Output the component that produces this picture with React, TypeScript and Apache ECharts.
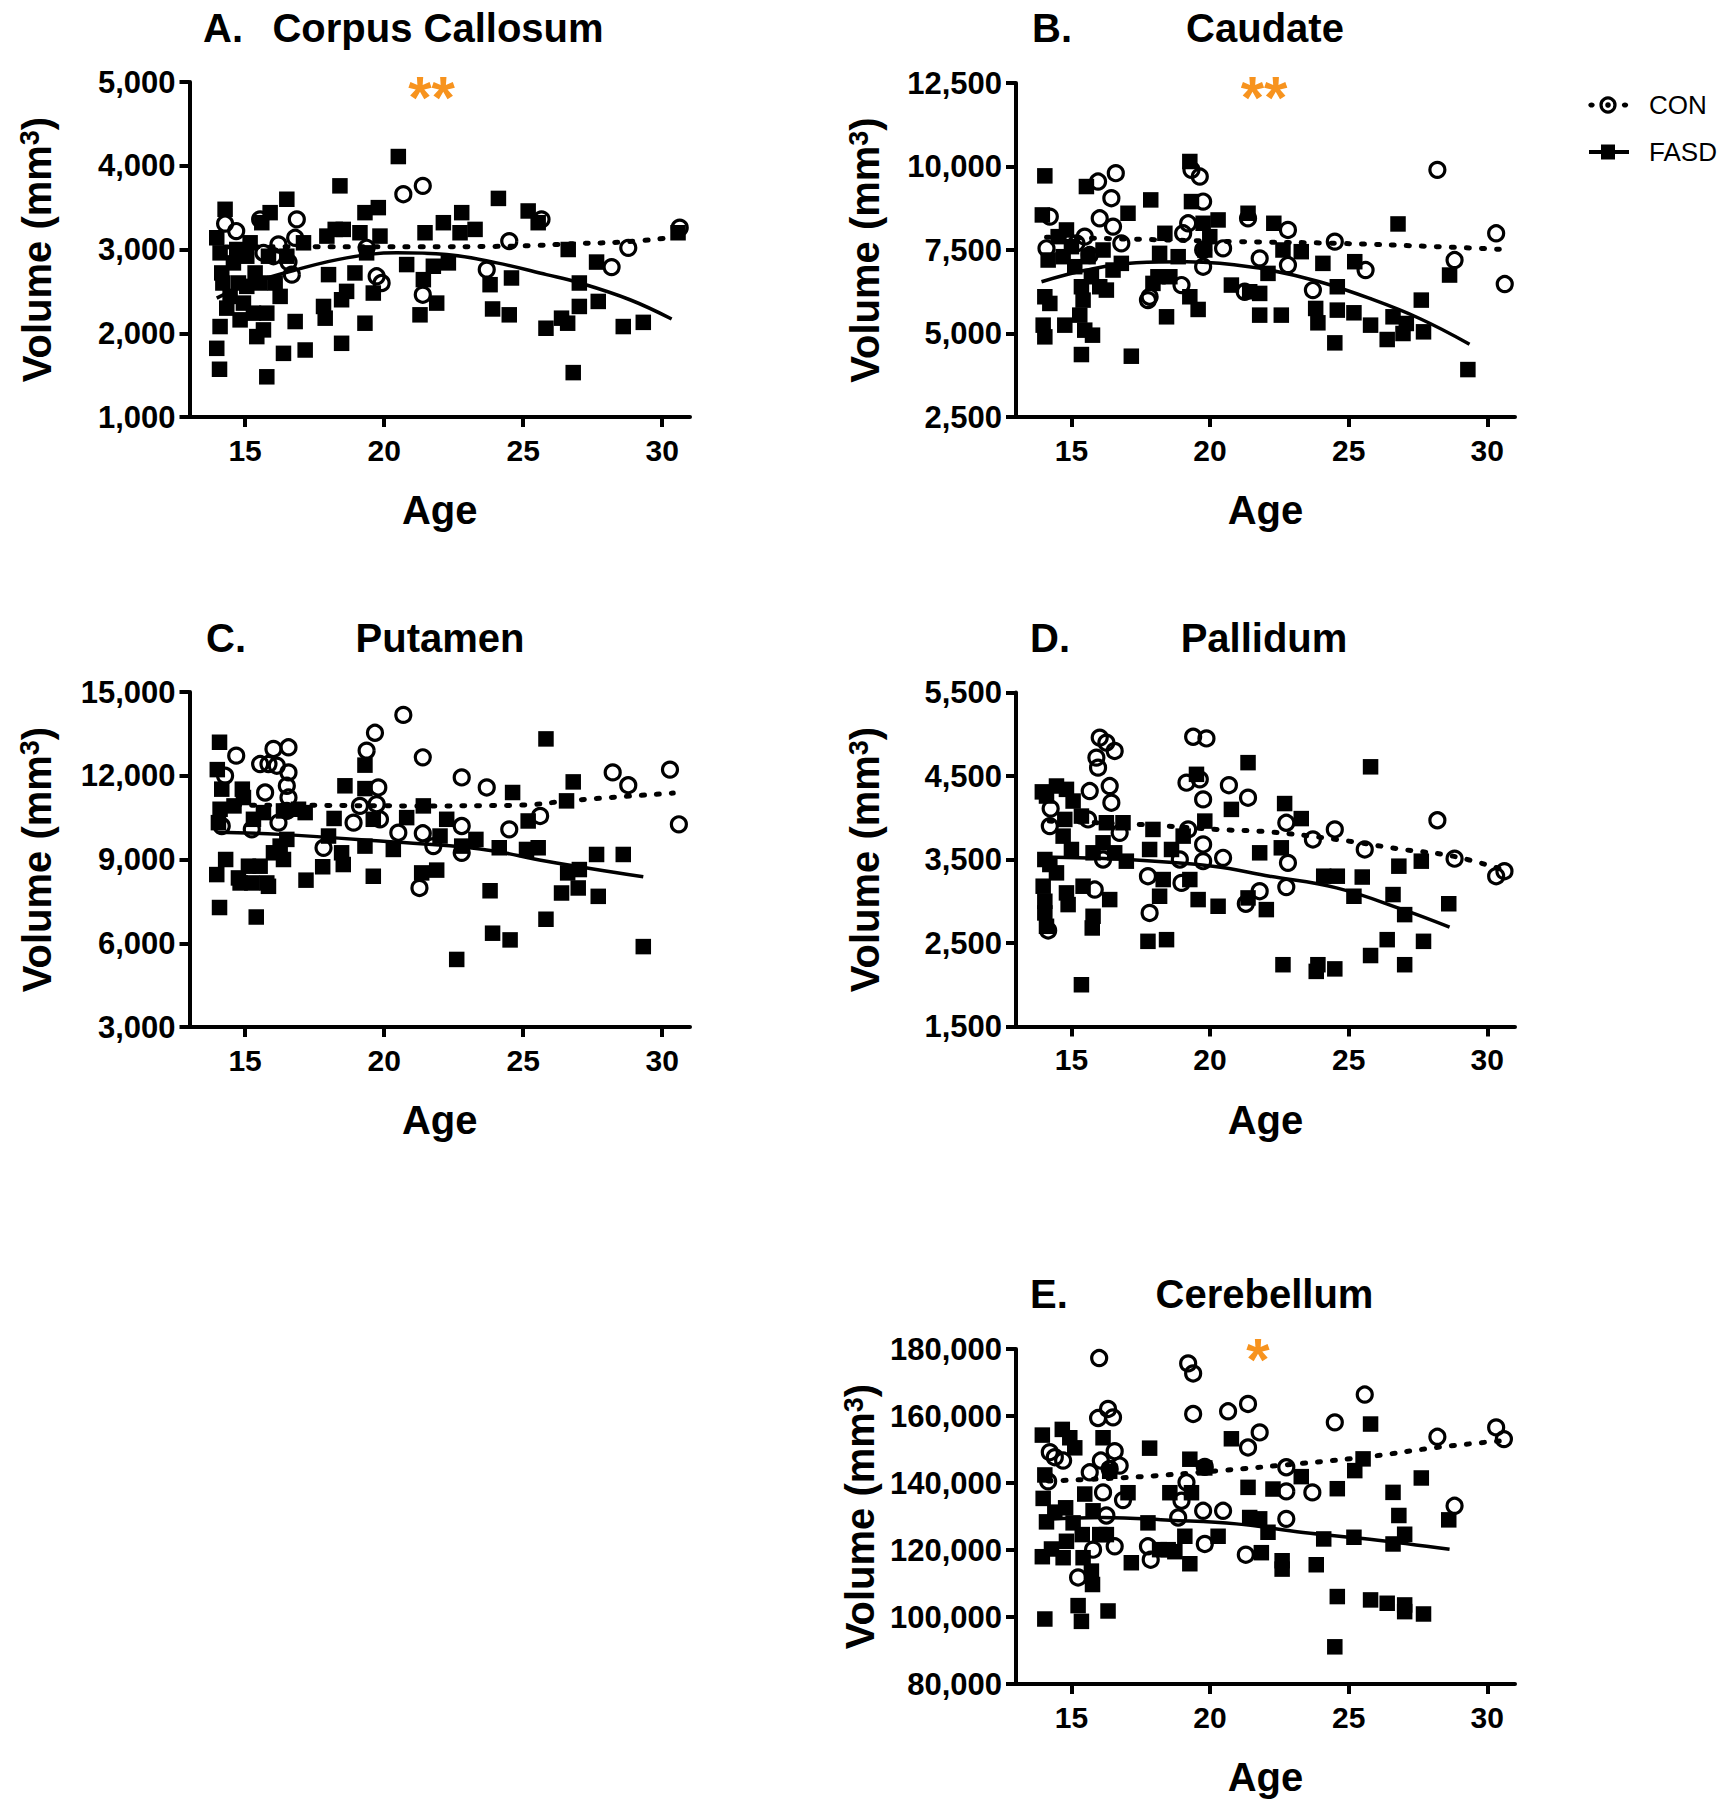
import React, { useEffect, useRef } from "react";
import * as echarts from "echarts";

const FONT = '"Liberation Sans", Arial, Helvetica, sans-serif';
const ORANGE = "#F7931E";

// ---------- tick labels ----------
const ageTicks = [15, 20, 25, 30];
const ccTicks = [1000, 2000, 3000, 4000, 5000];
const caTicks = [2500, 5000, 7500, 10000, 12500];
const puTicks = [3000, 6000, 9000, 12000, 15000];
const paTicks = [1500, 2500, 3500, 4500, 5500];
const ceTicks = [80000, 100000, 120000, 140000, 160000, 180000];

// ---------- A. Corpus Callosum ----------
const ccFASD: number[][] = [
  [14.28, 3480], [13.98, 3140], [14.1, 2960], [14.16, 2720], [14.2, 2600], [14.1, 2080], [13.98, 1820], [14.08, 1570],
  [14.34, 2300], [14.58, 2840], [14.76, 2600], [14.82, 2160], [14.94, 2360], [15.06, 2920], [15.18, 3080], [15.36, 2720],
  [15.3, 2240], [15.42, 1960], [15.54, 2600], [15.66, 2040], [15.6, 3320], [15.9, 3440], [15.78, 1480], [15.84, 2920],
  [15.78, 2240], [16.08, 2600], [16.26, 2440], [16.38, 1760], [16.5, 3600], [16.5, 2920], [16.8, 2140], [17.16, 1800],
  [17.1, 3080], [14.46, 2440], [15.06, 2560], [14.7, 3000], [17.82, 2320], [17.88, 2180], [18.0, 2700], [17.94, 3160],
  [18.24, 3240], [18.41, 3760], [18.53, 3240], [18.65, 2500], [18.47, 2400], [18.47, 1880], [18.95, 2720], [19.13, 3200],
  [19.31, 3440], [19.79, 3500], [19.31, 2120], [19.61, 2480], [19.85, 3160], [19.37, 2960], [20.51, 4110], [20.81, 2820],
  [21.47, 3200], [21.41, 2640], [21.29, 2220], [21.89, 2360], [21.77, 2800], [22.13, 3320], [22.31, 2840], [22.79, 3440],
  [22.73, 3200], [23.27, 3240], [24.11, 3610], [23.81, 2580], [23.9, 2290], [24.58, 2660], [24.5, 2220], [25.18, 3460],
  [25.54, 3320], [25.82, 2060], [26.38, 2180], [26.6, 2120], [26.62, 3000], [26.8, 1530], [27.02, 2600], [27.02, 2320],
  [27.7, 2380], [27.64, 2850], [28.6, 2080], [29.32, 2130], [30.57, 3200],
];
const ccCON: number[][] = [
  [14.28, 3310], [14.68, 3220], [15.54, 3360], [15.66, 2960], [16.2, 3060], [16.02, 2920], [16.56, 2850], [16.86, 3360],
  [16.8, 3140], [16.68, 2700], [19.37, 3020], [19.73, 2680], [19.91, 2600], [20.69, 3660], [21.39, 3760], [21.39, 2460],
  [23.69, 2760], [24.5, 3100], [25.66, 3360], [28.18, 2790], [28.78, 3020], [30.63, 3260],
];
const ccFASDFit: number[][] = [
  [13.98, 2420], [15.06, 2580], [16.86, 2760], [18.65, 2900], [20.45, 2960], [22.25, 2940], [24.05, 2840], [25.84, 2700],
  [27.04, 2600], [28.84, 2400], [30.34, 2170],
];
const ccCONFit: number[][] = [
  [14.28, 3030], [17.6, 3032], [21.0, 3032], [24.6, 3040], [27.0, 3072], [28.6, 3090], [30.6, 3150],
];

// ---------- B. Caudate ----------
const caFASD: number[][] = [
  [14.04, 9720], [13.95, 8550], [14.16, 7200], [14.04, 6100], [14.22, 5900], [13.98, 5250], [14.04, 4900], [14.52, 7900],
  [14.7, 7300], [14.82, 8100], [14.76, 5250], [15.0, 7600], [15.12, 7000], [15.36, 6400], [15.42, 6000], [15.3, 5550],
  [15.54, 9400], [15.36, 4370], [15.48, 5100], [15.76, 4950], [15.6, 7300], [15.72, 6700], [16.02, 6400], [16.26, 6300],
  [16.14, 7500], [16.5, 6900], [17.04, 8600], [16.8, 7100], [17.16, 4320], [17.86, 9000], [18.37, 8000], [18.18, 7400],
  [18.43, 5500], [17.94, 6500], [18.12, 6700], [18.55, 6700], [18.85, 7300], [19.27, 6100], [19.57, 5720], [19.27, 10150],
  [19.33, 8950], [19.75, 8300], [19.99, 7900], [20.29, 8400], [19.81, 7500], [20.77, 6450], [21.37, 8600], [21.43, 6250],
  [21.79, 5550], [21.79, 6200], [22.3, 8300], [22.57, 5550], [22.63, 7500], [22.09, 6800], [23.29, 7450], [24.07, 7100],
  [23.81, 5750], [23.89, 5320], [24.5, 4720], [24.59, 6400], [24.59, 5700], [25.19, 5620], [25.22, 7150], [25.79, 5250],
  [26.39, 4820], [26.6, 5500], [26.78, 8280], [26.96, 5000], [27.08, 5300], [27.7, 5050], [27.62, 6000], [28.64, 6750],
  [29.3, 3920],
];
const caCON: number[][] = [
  [14.22, 8500], [14.1, 7550], [15.96, 9550], [16.6, 9800], [16.44, 9050], [16.02, 8450], [16.5, 8200], [15.48, 7900],
  [15.18, 7700], [16.8, 7700], [15.66, 7350], [17.76, 6000], [17.82, 6100], [18.97, 6450], [19.33, 9900], [19.63, 9700],
  [19.75, 8950], [19.21, 8300], [19.03, 8000], [19.75, 7500], [19.75, 7000], [20.47, 7550], [21.37, 8450], [21.25, 6250],
  [21.79, 7250], [22.81, 8100], [22.81, 7050], [23.71, 6300], [24.5, 7750], [25.61, 6900], [28.2, 9900], [28.82, 7200],
  [30.32, 8000], [30.63, 6480],
];
const caFASDFit: number[][] = [
  [13.92, 6550], [15.54, 6900], [17.34, 7120], [19.15, 7150], [20.35, 7100], [22.15, 6900], [23.95, 6550], [25.76, 6050],
  [27.56, 5450], [29.36, 4680],
];
const caCONFit: number[][] = [
  [14.1, 7880], [17.46, 7820], [20.95, 7750], [24.56, 7700], [28.16, 7600], [30.5, 7520],
];

// ---------- C. Putamen ----------
const puFASD: number[][] = [
  [14.08, 13200], [14.0, 12220], [14.16, 11520], [14.1, 10800], [14.04, 10320], [13.98, 8460], [14.08, 7280], [14.3, 9000],
  [14.6, 10920], [14.9, 11520], [14.94, 11220], [14.76, 8340], [14.82, 8160], [15.12, 8760], [15.24, 8160], [15.4, 6940],
  [15.54, 8760], [15.78, 8160], [15.84, 8040], [15.3, 10440], [15.66, 10680], [16.02, 9240], [16.26, 9480], [16.38, 9000],
  [16.5, 9720], [16.38, 10740], [16.92, 10800], [17.16, 10680], [17.19, 8260], [17.79, 8740], [18.0, 9840], [18.2, 10470],
  [18.47, 9240], [18.53, 8820], [18.59, 11640], [19.31, 12380], [19.31, 11540], [19.31, 9480], [19.61, 8400], [19.61, 10440],
  [20.33, 9360], [20.81, 10500], [21.41, 10920], [21.35, 8520], [21.89, 8620], [22.01, 9840], [22.25, 10440], [22.61, 5420],
  [22.79, 9480], [23.3, 9720], [23.81, 7880], [23.9, 6360], [24.14, 9420], [24.53, 6120], [24.62, 11400], [25.12, 9360],
  [25.18, 10380], [25.54, 9420], [25.82, 13320], [25.82, 6860], [26.38, 7800], [26.56, 11100], [26.6, 8520], [26.8, 11780],
  [26.98, 7980], [27.02, 8640], [27.64, 9180], [27.7, 7680], [28.6, 9180], [29.32, 5880],
];
const puCON: number[][] = [
  [14.68, 12720], [14.28, 12000], [14.16, 10200], [15.72, 11400], [15.54, 12420], [15.84, 12420], [16.02, 12960], [16.14, 12360],
  [16.56, 13020], [16.56, 12120], [16.5, 11640], [16.56, 11220], [16.5, 10740], [15.24, 10080], [16.2, 10320], [17.82, 9420],
  [18.9, 10320], [19.13, 10920], [19.37, 12900], [19.67, 13540], [19.79, 11580], [19.73, 10980], [19.85, 10440], [20.69, 14180],
  [20.51, 9960], [21.39, 12660], [21.39, 9940], [21.27, 7980], [21.77, 9480], [22.79, 11940], [22.79, 10200], [22.79, 9240],
  [23.69, 11580], [24.5, 10080], [25.61, 10560], [28.22, 12120], [28.78, 11660], [30.28, 12220], [30.6, 10260],
];
const puFASDFit: number[][] = [
  [13.98, 9980], [16.26, 9900], [19.85, 9660], [23.45, 9380], [25.84, 8940], [29.32, 8380],
];
const puCONFit: number[][] = [
  [14.16, 10950], [17.46, 10940], [21.05, 10920], [24.65, 10940], [27.04, 11140], [30.4, 11380],
];

// ---------- D. Pallidum ----------
const paFASD: number[][] = [
  [13.95, 4310], [14.1, 4260], [14.46, 4380], [14.82, 4340], [15.06, 4200], [14.76, 3980], [15.36, 4020], [14.7, 3780],
  [14.04, 3500], [14.22, 3440], [13.98, 3180], [14.04, 3000], [14.04, 2860], [14.1, 2700], [14.46, 3340], [14.88, 2960],
  [14.82, 3100], [15.0, 3620], [15.36, 2000], [15.42, 3180], [15.78, 2820], [15.75, 2680], [16.38, 3020], [15.78, 3580],
  [16.14, 3700], [16.26, 3940], [16.56, 3580], [16.86, 3940], [16.98, 3480], [17.82, 3620], [17.94, 3860], [18.18, 3060],
  [17.76, 2520], [18.43, 2540], [18.31, 3260], [18.61, 3620], [19.27, 3260], [19.03, 3780], [19.51, 4520], [19.57, 3020],
  [19.81, 3960], [20.29, 2940], [20.77, 4100], [21.37, 4660], [21.37, 3040], [21.79, 3580], [22.03, 2900], [22.69, 4170],
  [22.57, 3640], [23.29, 3990], [22.63, 2240], [23.83, 2160], [23.89, 2240], [24.5, 2190], [24.1, 3300], [24.59, 3300],
  [25.49, 3290], [25.19, 3060], [25.79, 4610], [25.79, 2350], [26.39, 2540], [26.6, 3080], [26.81, 3420], [27.02, 2840],
  [27.02, 2240], [27.62, 3480], [27.7, 2520], [28.61, 2970],
];
const paCON: number[][] = [
  [14.25, 4110], [14.22, 3900], [14.16, 2650], [16.02, 4960], [16.26, 4900], [16.56, 4800], [15.9, 4720], [15.96, 4600],
  [16.38, 4380], [16.44, 4180], [15.66, 4320], [15.6, 3980], [16.74, 3820], [16.14, 3500], [15.84, 3140], [17.76, 3300],
  [17.82, 2860], [18.91, 3500], [18.97, 3220], [19.21, 3860], [19.39, 4970], [19.87, 4950], [19.15, 4420], [19.63, 4460],
  [19.75, 4220], [19.75, 3680], [19.75, 3480], [20.47, 3520], [20.68, 4390], [21.37, 4240], [21.29, 2970], [21.79, 3120],
  [22.75, 3940], [22.81, 3460], [22.75, 3170], [23.71, 3740], [24.5, 3860], [25.58, 3620], [28.2, 3970], [28.82, 3510],
  [30.32, 3300], [30.62, 3360],
];
const paFASDFit: number[][] = [
  [13.95, 3530], [17.0, 3500], [20.1, 3420], [22.15, 3300], [24.56, 3160], [26.96, 2900], [28.64, 2690],
];
const paCONFit: number[][] = [
  [14.2, 3960], [17.46, 3920], [20.23, 3860], [22.15, 3830], [24.56, 3740], [26.96, 3620], [28.76, 3540], [30.56, 3380],
];

// ---------- E. Cerebellum ----------
const ceFASD: number[][] = [
  [13.95, 154300], [14.04, 142400], [13.98, 135400], [14.1, 128400], [13.95, 118000], [14.04, 99400], [14.28, 120300],
  [14.4, 131300], [14.67, 156000], [14.94, 153500], [15.12, 150500], [14.79, 132600], [14.82, 122600], [14.7, 117700],
  [15.06, 128100], [15.39, 124600], [15.48, 136700], [15.42, 117700], [15.72, 113700], [15.76, 109700], [15.24, 103400],
  [15.36, 98700], [16.14, 153500], [16.32, 101800], [16.02, 124600], [16.26, 124600], [15.78, 131700], [16.38, 143500],
  [17.04, 137100], [17.16, 116200], [17.82, 150400], [17.76, 128100], [18.18, 120100], [18.55, 137100], [18.49, 120100],
  [18.73, 119500], [19.27, 147100], [19.33, 137100], [19.09, 124100], [19.27, 115900], [19.81, 144500], [20.29, 124100],
  [20.77, 153200], [21.37, 138700], [21.43, 129700], [21.79, 129300], [21.85, 119200], [22.27, 138200], [22.09, 125300],
  [22.6, 116800], [22.6, 114300], [23.29, 141900], [23.83, 115600], [24.1, 123300], [24.59, 138300], [24.59, 106100],
  [24.5, 91100], [25.22, 143700], [25.52, 147200], [25.19, 123800], [25.79, 157600], [25.79, 105100], [26.39, 104100],
  [26.6, 137200], [26.81, 130300], [26.6, 121800], [27.02, 124700], [27.02, 103600], [27.02, 101600], [27.62, 141500],
  [27.7, 100900], [28.61, 129000],
];
const ceCON: number[][] = [
  [16.0, 177300], [19.21, 175700], [19.39, 172700], [19.39, 160600], [20.65, 161400], [21.37, 163600], [21.79, 155100],
  [21.37, 150600], [25.58, 166400], [24.5, 158100], [28.2, 153800], [30.32, 156600], [30.6, 153100], [15.96, 159400],
  [16.32, 162100], [16.5, 159600], [14.22, 149200], [14.4, 147700], [14.7, 146700], [14.16, 140500], [15.66, 143200],
  [16.06, 146700], [16.56, 149500], [16.74, 145200], [16.38, 144200], [16.14, 137200], [16.86, 134900], [16.26, 130300],
  [15.78, 120100], [16.56, 121100], [15.24, 111800], [17.76, 121100], [17.86, 117100], [19.15, 140200], [18.97, 134700],
  [18.85, 129700], [19.75, 131700], [19.81, 121800], [20.47, 131700], [19.81, 144800], [21.29, 118600], [22.75, 144700],
  [22.75, 137500], [22.75, 129300], [23.69, 137200], [28.82, 133200],
];
const ceFASDFit: number[][] = [
  [14.1, 129200], [16.14, 129700], [18.55, 128900], [20.95, 127800], [23.36, 125200], [25.76, 123200], [28.64, 120200],
];
const ceCONFit: number[][] = [
  [14.16, 140600], [17.34, 141800], [20.35, 143700], [23.36, 145900], [25.76, 147900], [28.16, 150600], [30.5, 152600],
];

// ---------- layout (not data) ----------
const panels = [
  { letter: "A.", name: "Corpus Callosum", ticks: ccTicks, fasd: ccFASD, con: ccCON, fasdFit: ccFASDFit, conFit: ccCONFit,
    grid: { left: 189.5, top: 82, width: 500.5, height: 335 }, letterX: 203, titleX: 438, titleY: 27.5, nameGap: 133, star: "**", starX: 431.5, starY: 97 },
  { letter: "B.", name: "Caudate", ticks: caTicks, fasd: caFASD, con: caCON, fasdFit: caFASDFit, conFit: caCONFit,
    grid: { left: 1016, top: 83, width: 499, height: 334 }, letterX: 1032, titleX: 1265, titleY: 27.5, nameGap: 131, star: "**", starX: 1264, starY: 97 },
  { letter: "C.", name: "Putamen", ticks: puTicks, fasd: puFASD, con: puCON, fasdFit: puFASDFit, conFit: puCONFit,
    grid: { left: 189.5, top: 692, width: 500.5, height: 335 }, letterX: 206, titleX: 440, titleY: 638, nameGap: 133, star: "", starX: 0, starY: 0 },
  { letter: "D.", name: "Pallidum", ticks: paTicks, fasd: paFASD, con: paCON, fasdFit: paFASDFit, conFit: paCONFit,
    grid: { left: 1016, top: 692.5, width: 499, height: 334 }, letterX: 1030, titleX: 1264, titleY: 638, nameGap: 131, star: "", starX: 0, starY: 0 },
  { letter: "E.", name: "Cerebellum", ticks: ceTicks, fasd: ceFASD, con: ceCON, fasdFit: ceFASDFit, conFit: ceCONFit,
    grid: { left: 1016, top: 1349, width: 499, height: 335 }, letterX: 1030, titleX: 1264.5, titleY: 1294, nameGap: 131, star: "*", starX: 1258, starY: 1359 },
];

const fmt = (v: number) => v.toLocaleString("en-US");

function textEl(x: number, y: number, text: string, font: string, fill: string, align: string) {
  return {
    type: "text",
    x,
    y,
    silent: true,
    style: { text, font, fill, textAlign: align, textVerticalAlign: "middle", align, verticalAlign: "middle" },
  };
}

function buildOption() {
  const grid: any[] = [];
  const xAxis: any[] = [];
  const yAxis: any[] = [];
  const series: any[] = [];
  const graphic: any[] = [];

  panels.forEach((p, i) => {
    grid.push({ ...p.grid, containLabel: false });
    xAxis.push({
      type: "value",
      gridIndex: i,
      min: 13,
      max: 31,
      name: "Age",
      nameLocation: "middle",
      nameGap: 73,
      nameTextStyle: { fontFamily: FONT, fontSize: 40, fontWeight: "bold", color: "#000" },
      axisLine: { show: true, onZero: false, lineStyle: { color: "#000", width: 4 } },
      axisTick: { show: true, length: 10, customValues: ageTicks, lineStyle: { color: "#000", width: 4 } },
      axisLabel: { customValues: ageTicks, fontFamily: FONT, fontSize: 30, fontWeight: "bold", color: "#000", margin: 18 },
      splitLine: { show: false },
    });
    yAxis.push({
      type: "value",
      gridIndex: i,
      min: p.ticks[0],
      max: p.ticks[p.ticks.length - 1],
      name: "{a|Volume (mm}{b|3}{a|)}",
      nameLocation: "middle",
      nameGap: p.nameGap,
      nameTextStyle: {
        rich: {
          a: { fontFamily: FONT, fontSize: 40, fontWeight: "bold", color: "#000", lineHeight: 40, verticalAlign: "bottom" },
          b: { fontFamily: FONT, fontSize: 27, fontWeight: "bold", color: "#000", lineHeight: 27, verticalAlign: "top", padding: [0, 0, 19, 0] },
        },
      },
      axisLine: { show: true, onZero: false, lineStyle: { color: "#000", width: 4 } },
      axisTick: { show: true, length: 10, customValues: p.ticks, lineStyle: { color: "#000", width: 4 } },
      axisLabel: { customValues: p.ticks, fontFamily: FONT, fontSize: 31, fontWeight: "bold", color: "#000", margin: 14, formatter: fmt },
      splitLine: { show: false },
    });
    series.push({
      type: "scatter",
      name: "FASD",
      xAxisIndex: i,
      yAxisIndex: i,
      data: p.fasd,
      symbol: "rect",
      symbolSize: 15.5,
      itemStyle: { color: "#000", opacity: 1 },
      silent: true,
      z: 2,
    });
    series.push({
      type: "scatter",
      name: "CON",
      xAxisIndex: i,
      yAxisIndex: i,
      data: p.con,
      symbol: "circle",
      symbolSize: 15,
      itemStyle: { color: "rgba(255,255,255,0)", borderColor: "#000", borderWidth: 3.2, opacity: 1 },
      silent: true,
      z: 3,
    });
    series.push({
      type: "line",
      name: "FASD fit",
      xAxisIndex: i,
      yAxisIndex: i,
      data: p.fasdFit,
      smooth: 0.4,
      symbol: "none",
      lineStyle: { color: "#000", width: 3.5 },
      silent: true,
      z: 4,
    });
    series.push({
      type: "line",
      name: "CON fit",
      xAxisIndex: i,
      yAxisIndex: i,
      data: p.conFit,
      smooth: 0.4,
      symbol: "none",
      lineStyle: { color: "#000", width: 5, type: [3, 12], cap: "round" },
      silent: true,
      z: 4,
    });

    graphic.push(textEl(p.letterX, p.titleY, p.letter, `bold 40px ${FONT}`, "#000", "left"));
    graphic.push(textEl(p.titleX, p.titleY, p.name, `bold 40px ${FONT}`, "#000", "center"));
    if (p.star) graphic.push(textEl(p.starX, p.starY, p.star, `bold 60px ${FONT}`, ORANGE, "center"));
  });

  // legend
  const lx = 1608;
  const cy = 105;
  const fy = 152;
  graphic.push({ type: "ellipse", silent: true, shape: { cx: 1591.5, cy, rx: 3.2, ry: 2.6 }, style: { fill: "#000" } });
  graphic.push({ type: "ellipse", silent: true, shape: { cx: 1625, cy, rx: 3.2, ry: 2.6 }, style: { fill: "#000" } });
  graphic.push({ type: "circle", silent: true, shape: { cx: lx, cy, r: 2.8 }, style: { fill: "#000" } });
  graphic.push({ type: "circle", silent: true, shape: { cx: lx, cy, r: 7 }, style: { fill: "none", stroke: "#000", lineWidth: 3.2 } });
  graphic.push(textEl(1649, cy, "CON", `26px ${FONT}`, "#000", "left"));
  graphic.push({ type: "line", silent: true, shape: { x1: 1589, y1: fy, x2: 1629, y2: fy }, style: { stroke: "#000", lineWidth: 4 } });
  graphic.push({ type: "rect", silent: true, shape: { x: lx - 7, y: fy - 7.5, width: 14, height: 15 }, style: { fill: "#000" } });
  graphic.push(textEl(1649, fy, "FASD", `26px ${FONT}`, "#000", "left"));

  return {
    animation: false,
    backgroundColor: "#fff",
    grid,
    xAxis,
    yAxis,
    series,
    graphic: { elements: graphic },
  };
}

export default function App() {
  const ref = useRef<HTMLDivElement>(null);
  useEffect(() => {
    if (!ref.current) return;
    const chart = echarts.init(ref.current, null, { renderer: "svg" });
    chart.setOption(buildOption() as any);
    return () => chart.dispose();
  }, []);
  return (
    <div
      ref={ref}
      style={{ position: "absolute", left: 0, top: 0, width: 1725, height: 1800, background: "#fff" }}
    />
  );
}
